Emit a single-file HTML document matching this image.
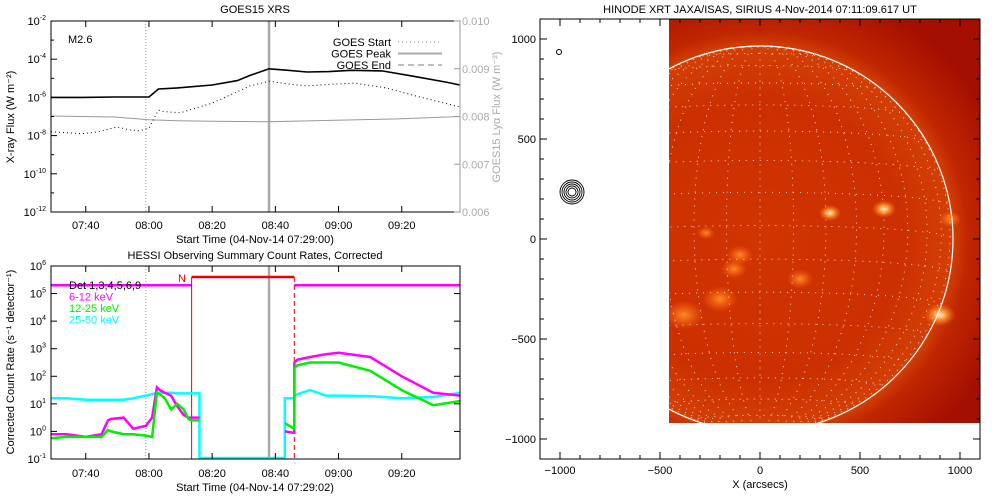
<!DOCTYPE html>
<html><head><meta charset="utf-8"><style>
html,body{margin:0;padding:0;background:#fff}
svg{display:block;font-family:"Liberation Sans",sans-serif}
text{font-size:11px}
</style></head><body>
<svg id="c" width="1000" height="500" viewBox="0 0 1000 500" xmlns="http://www.w3.org/2000/svg">
<defs>
<clipPath id="clipTop"><rect x="51" y="21" width="409" height="191"/></clipPath>
<clipPath id="clipBot"><rect x="51" y="266" width="409" height="193"/></clipPath>
<clipPath id="clipImg"><rect x="669" y="19" width="311" height="404"/></clipPath>
<radialGradient id="sunG" cx="760" cy="239" r="260" gradientUnits="userSpaceOnUse">
<stop offset="0" stop-color="#d03400"/><stop offset="0.55" stop-color="#cc3000"/><stop offset="0.74" stop-color="#d24006"/><stop offset="0.8" stop-color="#c02600"/><stop offset="1" stop-color="#a41000"/>
</radialGradient>
<radialGradient id="blob"><stop offset="0" stop-color="#fff4e0"/><stop offset="0.35" stop-color="#ffa040"/><stop offset="1" stop-color="#ff7010" stop-opacity="0"/></radialGradient>
<radialGradient id="blob2"><stop offset="0" stop-color="#ff8a28"/><stop offset="1" stop-color="#ff6a10" stop-opacity="0"/></radialGradient>
</defs>
<g id="top"></g>
<g id="bot"></g>
<g id="img"></g>
</svg>
<script>
// ---- GOES data (minutes after 07:29, log10 flux) ----
var goesLongT = [0,10,20,31,34,40,51,59,63,69,75,81,88,95,105,115,125,129.4];
var goesLongV = [-6,-6,-5.98,-5.98,-5.56,-5.5,-5.35,-5.12,-4.85,-4.5,-4.58,-4.67,-4.65,-4.58,-4.62,-4.9,-5.2,-5.35];
var goesShortT = [0,5,10,15,21,25,28,31,34,36,41,51,59,63,69,75,81,88,96,106,116,129.4];
var goesShortV = [-7.8,-7.85,-7.9,-7.8,-7.55,-7.7,-7.75,-7.6,-6.67,-6.75,-6.8,-6.3,-5.7,-5.4,-5.15,-5.3,-5.4,-5.32,-5.25,-5.5,-5.95,-6.5];
var lyaT = [0,10,20,31,40,51,69,90,110,129.4];
var lyaV = [0.00801,0.008,0.00799,0.00793,0.00791,0.0079,0.00789,0.00792,0.00795,0.008];
var eventStart = 30, eventPeak = 69;
var yTicksTop = [-2,-4,-6,-8,-10,-12];
var lyaTicks = [0.010,0.009,0.008,0.007,0.006];
var timeTicks = [11,31,51,71,91,111];
var timeLabels = ["07:40","08:00","08:20","08:40","09:00","09:20"];
// ---- HESSI data (minutes after 07:29, log10 counts); null = gap ----
var hT = [0,5,11,16,18,19,23,26,30,32,33.5,34.5,36,38,40,42,43.5,44.5,47,47.01,74,77,77.01,78,82,87,91,101,111,121,129.4];
var hMag = [-0.1,-0.1,-0.2,-0.1,0.4,0.45,0.5,0.1,0.2,0.5,1.6,1.5,1.4,1.3,0.9,0.6,0.5,0.5,0.5,null,0,-0.05,2.5,2.6,2.7,2.8,2.85,2.7,2.0,1.4,1.3];
var hGrn = [-0.25,-0.2,-0.2,-0.2,0.05,0,-0.1,-0.1,-0.15,-0.2,1.4,1.35,1.2,0.8,1.0,0.8,0.45,0.4,0.4,null,0.3,0.1,2.3,2.4,2.5,2.5,2.5,2.2,1.5,0.95,1.1];
var hCyan = [1.2,1.2,1.15,1.15,1.15,1.15,1.15,1.2,1.3,1.35,1.4,1.4,1.4,1.4,1.38,1.38,1.38,1.38,1.38,null,1.2,1.2,1.3,1.35,1.5,1.3,1.3,1.28,1.2,1.25,1.4];
var attenLevel = 5.6, attenStart = 44.5, attenEnd = 77;
var decimLevel = 5.3;
var yTicksBot = [6,5,4,3,2,1,0,-1];
// ---- XRT ----
var xyTicks = [-1000,-500,0,500,1000];
var blobsX = [350,620,-760,-130,-270,900,-380,-100,950,-200,200];
var blobsY = [130,150,40,-150,30,-380,-380,-80,100,-300,-200];
var blobsR = [50,55,60,60,40,70,90,60,50,80,60];

var NS="http://www.w3.org/2000/svg";
function el(tag,attrs,parent,txt){var e=document.createElementNS(NS,tag);for(var k in attrs)e.setAttribute(k,attrs[k]);if(txt!==undefined)e.textContent=txt;parent.appendChild(e);return e;}
function tx(m){return 51+m*3.16;}
function yTop(L){return 21+(-2-L)*19.1;}
function yLya(v){return 212-(v-0.006)/0.004*191;}
function yBot(L){return 266+(6-L)*27.57;}
function path(ts,vs,fx,fy){var d="",pen=false;for(var i=0;i<ts.length;i++){if(vs[i]===null){pen=false;continue;}d+=(pen?"L":"M")+fx(ts[i]).toFixed(1)+","+fy(vs[i]).toFixed(1);pen=true;}return d;}

// ===== TOP PANEL =====
var T=document.getElementById('top');
el('text',{x:255,y:13,'text-anchor':'middle',},T,'GOES15 XRS');
var g=el('g',{'clip-path':'url(#clipTop)'},T);
el('line',{x1:tx(eventStart),x2:tx(eventStart),y1:21,y2:212,stroke:'#999','stroke-dasharray':'1 2',},g);
el('line',{x1:tx(eventPeak),x2:tx(eventPeak),y1:21,y2:212,stroke:'#aaa','stroke-width':2.5,},g);
el('path',{d:path(lyaT,lyaV,tx,yLya),fill:'none',stroke:'#999','stroke-width':1,},g);
el('path',{d:path(goesLongT,goesLongV,tx,yTop),fill:'none',stroke:'#000','stroke-width':1.6,},g);
el('path',{d:path(goesShortT,goesShortV,tx,yTop),fill:'none',stroke:'#000','stroke-width':1,'stroke-dasharray':'1 3',},g);
el('rect',{x:51,y:21,width:409,height:191,fill:'none',stroke:'#000',},T);
el('line',{x1:460,x2:460,y1:21,y2:212,stroke:'#999',},T);
yTicksTop.forEach(function(L,i){var y=yTop(L);
 el('line',{x1:51,x2:57,y1:y,y2:y,stroke:'#000'},T);
 if(i<yTicksTop.length-1){var y2=yTop(L-1);el('line',{x1:51,x2:54,y1:y2,y2:y2,stroke:'#000'},T);}
 var t=el('text',{x:46,y:y+4,'text-anchor':'end','font-size':10},T);
 
 el('tspan',{},t,'10');el('tspan',{dy:-5,'font-size':7},t,String(L));});
lyaTicks.forEach(function(v){var y=yLya(v);el('line',{x1:454,x2:460,y1:y,y2:y,stroke:'#999'},T);
 el('text',{x:462,y:y+4,fill:'#aaa','font-size':9,},T,v.toFixed(3));});
timeTicks.forEach(function(m,i){var x=tx(m);el('line',{x1:x,x2:x,y1:212,y2:206,stroke:'#000'},T);el('line',{x1:x,x2:x,y1:21,y2:27,stroke:'#000'},T);
 el('text',{x:x,y:229,'text-anchor':'middle','font-size':10,},T,timeLabels[i]);});
el('text',{x:255,y:243,'text-anchor':'middle','font-size':10,},T,'Start Time (04-Nov-14 07:29:00)');
el('text',{x:14,y:117,'text-anchor':'middle','font-size':10,transform:'rotate(-90 14 117)',},T,'X-ray Flux (W m\u207B\u00B2)');
el('text',{x:500,y:117,'text-anchor':'middle','font-size':10,fill:'#aaa',transform:'rotate(-90 500 117)',},T,'GOES15 Lyα Flux (W m\u207B\u00B2)');
el('text',{x:68,y:43,'font-size':10,},T,'M2.6');
var leg=[['GOES Start','1 3'],['GOES Peak',''],['GOES End','6 4']];
leg.forEach(function(l,i){var y=42+i*11.5;
 el('text',{x:391,y:y+4,'text-anchor':'end','font-size':10,},T,l[0]);
 var a={x1:398,x2:442,y1:y,y2:y,stroke:'#aaa','stroke-width':l[1]===''?2:1.5};if(l[1])a['stroke-dasharray']=l[1];el('line',a,T);});

// ===== BOTTOM PANEL =====
var B=document.getElementById('bot');
el('text',{x:255,y:259,'text-anchor':'middle',},B,'HESSI Observing Summary Count Rates, Corrected');
var gb=el('g',{'clip-path':'url(#clipBot)'},B);
el('line',{x1:tx(eventStart),x2:tx(eventStart),y1:266,y2:459,stroke:'#999','stroke-dasharray':'1 2'},gb);
el('line',{x1:tx(eventPeak),x2:tx(eventPeak),y1:266,y2:459,stroke:'#aaa','stroke-width':2.5,},gb);
el('path',{d:'M51,'+yBot(decimLevel)+'H'+tx(attenStart)+'M'+tx(attenEnd)+','+yBot(decimLevel)+'H460',stroke:'#f0f',fill:'none','stroke-width':2.5,},gb);
el('path',{d:'M'+tx(attenStart)+','+yBot(attenLevel)+'H'+tx(attenEnd),stroke:'#e00',fill:'none','stroke-width':2.5,},gb);
el('line',{x1:tx(attenStart),x2:tx(attenStart),y1:yBot(attenLevel),y2:459,stroke:'#e00',},gb);
el('line',{x1:tx(attenEnd),x2:tx(attenEnd),y1:yBot(attenLevel),y2:459,stroke:'#e00','stroke-dasharray':'5 3',},gb);
(function(){var d="";var gi=hCyan.indexOf(null);for(var i=0;i<hT.length;i++){if(hCyan[i]===null)continue;d+=(d?"L":"M")+tx(hT[i]).toFixed(1)+","+yBot(hCyan[i]).toFixed(1);
 if(i===gi-1){d+="L"+tx(hT[i]).toFixed(1)+","+(yBot(-1)-1)+"L"+tx(hT[gi+1]).toFixed(1)+","+(yBot(-1)-1);}}
 el('path',{d:d,fill:'none',stroke:'#0ff','stroke-width':2.5,},gb);})();
el('path',{d:path(hT,hMag,tx,yBot),fill:'none',stroke:'#f0f','stroke-width':2.5,},gb);
el('path',{d:path(hT,hGrn,tx,yBot),fill:'none',stroke:'#0e0','stroke-width':2.5,},gb);
el('rect',{x:51,y:266,width:409,height:193,fill:'none',stroke:'#000',},B);
yTicksBot.forEach(function(L){var y=yBot(L);el('line',{x1:51,x2:57,y1:y,y2:y,stroke:'#000'},B);el('line',{x1:454,x2:460,y1:y,y2:y,stroke:'#000'},B);
 var t=el('text',{x:46,y:y+4,'text-anchor':'end','font-size':10},B);
 
 el('tspan',{},t,'10');el('tspan',{dy:-5,'font-size':7},t,String(L));});
timeTicks.forEach(function(m,i){var x=tx(m);el('line',{x1:x,x2:x,y1:459,y2:453,stroke:'#000'},B);el('line',{x1:x,x2:x,y1:266,y2:272,stroke:'#000'},B);
 el('text',{x:x,y:477,'text-anchor':'middle','font-size':10,},B,timeLabels[i]);});
el('text',{x:255,y:491,'text-anchor':'middle','font-size':10,},B,'Start Time (04-Nov-14 07:29:02)');
el('text',{x:14,y:362,'text-anchor':'middle','font-size':10,transform:'rotate(-90 14 362)',},B,'Corrected Count Rate (s\u207B\u00B9 detector\u207B\u00B9)');
el('text',{x:178,y:282,fill:'#e00','font-size':9,},B,'N');
[['Det 1,3,4,5,6,9','#000'],['6-12 keV','#f0f'],['12-25 keV','#0e0'],['25-50 keV','#0ff']].forEach(function(l,i){
 el('text',{x:69,y:289+i*11.5,fill:l[1],'font-size':10,},B,l[0]);});

// ===== XRT IMAGE =====
var I=document.getElementById('img');
function ax(a){return 760+a*0.2;} function ay(a){return 239-a*0.2;}
el('text',{x:760,y:13,'text-anchor':'middle',},I,'HINODE XRT JAXA/ISAS, SIRIUS   4-Nov-2014 07:11:09.617 UT');
var gi=el('g',{'clip-path':'url(#clipImg)'},I);
el('rect',{x:669,y:19,width:311,height:404,fill:'url(#sunG)',},gi);
blobsX.forEach(function(bx,i){var b=el('ellipse',{cx:ax(bx),cy:ay(blobsY[i]),rx:blobsR[i]*0.22,ry:blobsR[i]*0.16,fill:i<2||i===5?'url(#blob)':'url(#blob2)'},gi);
 });
var R=193,b0=-4*Math.PI/180,cx=760,cy=239;
function proj(lat,lon){var la=lat*Math.PI/180,lo=lon*Math.PI/180;var x=Math.cos(la)*Math.sin(lo);var y=Math.sin(la)*Math.cos(b0)-Math.cos(la)*Math.sin(b0)*Math.cos(lo);var z=Math.sin(la)*Math.sin(b0)+Math.cos(la)*Math.cos(b0)*Math.cos(lo);return [cx+R*x,cy-R*y,z];}
var gd="";
for(var lat=-80;lat<=80;lat+=10){var pen=false;for(var lo=-90;lo<=90;lo+=3){var p=proj(lat,lo);if(p[2]<0){pen=false;continue;}gd+=(pen?"L":"M")+p[0].toFixed(1)+","+p[1].toFixed(1);pen=true;}}
for(var lon=-80;lon<=80;lon+=10){var pen2=false;for(var la2=-90;la2<=90;la2+=3){var q=proj(la2,lon);if(q[2]<0){pen2=false;continue;}gd+=(pen2?"L":"M")+q[0].toFixed(1)+","+q[1].toFixed(1);pen2=true;}}
el('path',{d:gd,fill:'none',stroke:'#fff','stroke-width':0.9,'stroke-opacity':0.85,'stroke-dasharray':'1 6',},gi);
el('circle',{cx:cx,cy:cy,r:R,fill:'none',stroke:'#fff','stroke-width':1.2,},gi);
el('rect',{x:540,y:19,width:440,height:440,fill:'none',stroke:'#000',},I);
for(var v=-1100;v<=1100;v+=100){var xx=ax(v),yy=ay(v);var L=(v%500===0)?7:4;
 el('line',{x1:xx,x2:xx,y1:459,y2:459-L,stroke:'#000'},I);el('line',{x1:xx,x2:xx,y1:19,y2:19+L,stroke:'#000'},I);
 el('line',{x1:540,x2:540+L,y1:yy,y2:yy,stroke:'#000'},I);el('line',{x1:980,x2:980-L,y1:yy,y2:yy,stroke:'#000'},I);}
xyTicks.forEach(function(v){
 el('text',{x:ax(v),y:474,'text-anchor':'middle','font-size':10,},I,String(v).replace('-','\u2212'));
 el('text',{x:536,y:ay(v)+4,'text-anchor':'end','font-size':10,},I,String(v).replace('-','\u2212'));});
el('text',{x:760,y:488,'text-anchor':'middle','font-size':10,},I,'X (arcsecs)');
el('circle',{cx:559,cy:52,r:2.5,fill:'none',stroke:'#000',},I);
[4,6,8,10,12].forEach(function(r){var c=el('circle',{cx:572,cy:192,r:r,fill:'none',stroke:'#000','stroke-width':0.9},I);
 });
</script>
</body></html>
